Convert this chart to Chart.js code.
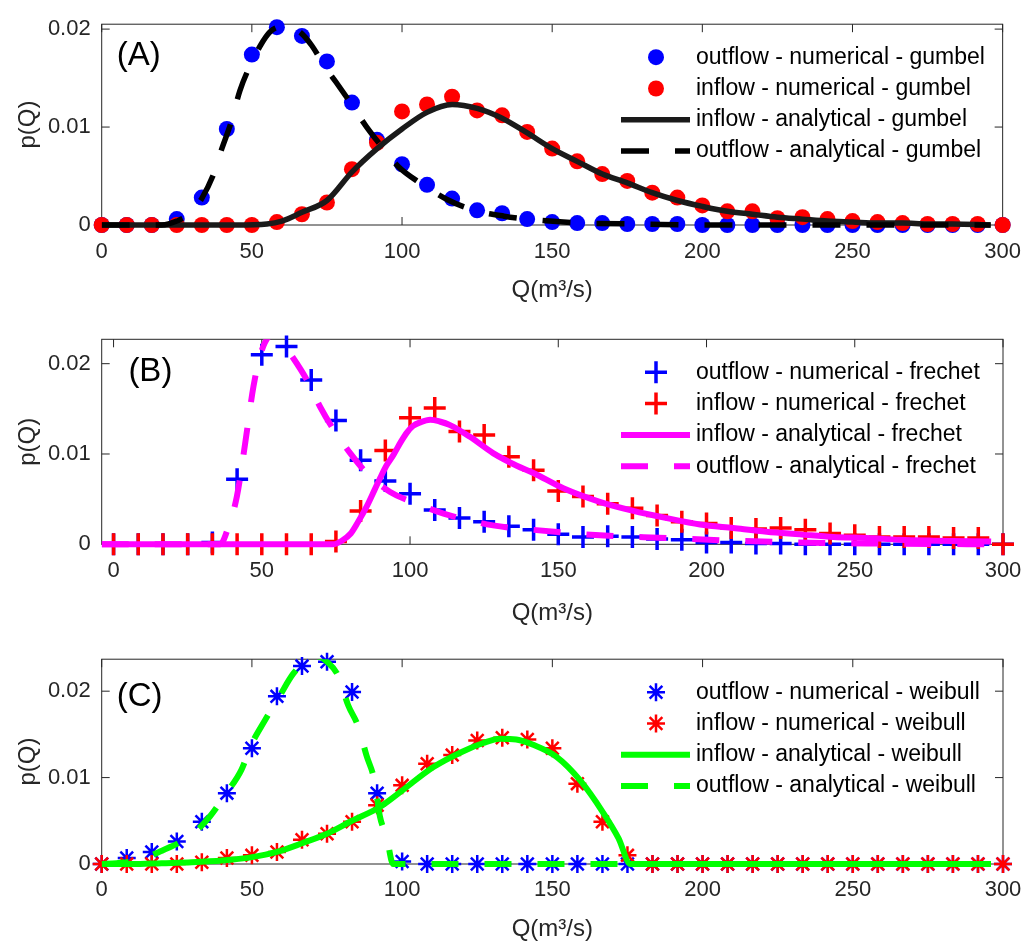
<!DOCTYPE html>
<html>
<head>
<meta charset="utf-8">
<script src="https://cdn.jsdelivr.net/npm/chart.js@4.4.1/dist/chart.umd.min.js"></script>
<style>
  html, body { margin: 0; padding: 0; background: #fff; }
  .panel { position: absolute; left: 0; }
</style>
</head>
<body>
<canvas id="cA" class="panel" width="1035" height="315" style="top:0px"></canvas>
<canvas id="cB" class="panel" width="1035" height="320" style="top:315px"></canvas>
<canvas id="cC" class="panel" width="1035" height="310" style="top:635px"></canvas>
<script>
// three stacked panels: gumbel / frechet / weibull fits of p(Q)

const FONT = '"Liberation Sans", Arial, Helvetica, sans-serif';
const AXIS_COLOR = '#262626';

// discharge grid of the numerical estimates
const Q_NUM = [0, 8.33, 16.67, 25, 33.33, 41.67, 50, 58.33, 66.67, 75, 83.33, 91.67, 100,
  108.33, 116.67, 125, 133.33, 141.67, 150, 158.33, 166.67, 175, 183.33, 191.67, 200,
  208.33, 216.67, 225, 233.33, 241.67, 250, 258.33, 266.67, 275, 283.33, 291.67, 300];

const X_TICKS = [0, 50, 100, 150, 200, 250, 300];
const Y_TICKS = [0, 0.01, 0.02];

// (A) gumbel
const GUMBEL_OUT_NUM = [0, 0, 0, 0.0006, 0.0028, 0.0098, 0.0174, 0.0202, 0.0193, 0.0167, 0.0125, 0.0087, 0.0062,
  0.0041, 0.0027, 0.0015, 0.0012, 0.0006, 0.0003, 0.0002, 0.0002, 0.0001, 0.0001, 0.0001, 0,
  0, 0, 0, 0, 0, 0, 0, 0, 0, 0, 0, 0];
const GUMBEL_IN_NUM = [0, 0, 0, 0, 0, 0, 0, 0.0003, 0.0011, 0.0023, 0.0057, 0.0084, 0.0116,
  0.0123, 0.0131, 0.0117, 0.0112, 0.0095, 0.0078, 0.0065, 0.0052, 0.0045, 0.0033, 0.0028, 0.0020,
  0.0014, 0.0014, 0.0007, 0.0008, 0.0006, 0.0004, 0.0003, 0.0002, 0.0001, 0.0001, 0.0001, 0];
const GUMBEL_IN_Q = [0, 45, 55, 60, 66.7, 75, 83.3, 91.7, 100, 108.3, 116.7, 125, 133.3, 141.7, 150,
  158.3, 166.7, 175, 183.3, 191.7, 200, 208.3, 216.7, 225, 233.3, 241.7, 250, 258.3, 266.7, 275, 283.3, 296];
const GUMBEL_IN_P = [0, 0, 0.0001, 0.0004, 0.0013, 0.0025, 0.0054, 0.0078, 0.0098, 0.0115, 0.0123, 0.0119, 0.0109, 0.0094, 0.0078,
  0.0065, 0.0052, 0.0043, 0.0033, 0.0025, 0.0019, 0.0014, 0.0011, 0.0008, 0.0006, 0.0004, 0.0003, 0.0002, 0.0002, 0.0001, 0.0001, 0];
const GUMBEL_OUT_Q = [0, 20, 25, 30, 33.3, 37, 40, 43, 46, 49, 53, 56, 59, 62, 66, 70, 74, 78, 83, 88, 93,
  99, 106, 115, 124, 134, 145, 160, 180, 200, 296];
const GUMBEL_OUT_P = [0, 0, 0.0004, 0.0013, 0.0027, 0.0050, 0.0078, 0.0104, 0.0137, 0.0160, 0.0184, 0.0197, 0.0202, 0.0202, 0.0197, 0.0183, 0.0163, 0.0146, 0.0124, 0.0101, 0.0081,
  0.0059, 0.0043, 0.0026, 0.0015, 0.0009, 0.0005, 0.0002, 0.0001, 0, 0];

// (B) frechet
const FRECHET_OUT_NUM = [0, 0, 0, 0, 0.0002, 0.0072, 0.0210, 0.0219, 0.0182, 0.0137, 0.0093, 0.0070, 0.0056,
  0.0038, 0.0029, 0.0025, 0.0020, 0.0016, 0.0011, 0.0008, 0.0009, 0.0008, 0.0006, 0.0005, 0.0002,
  0.0002, 0.0001, 0.0001, 0, 0, 0, 0, 0, 0, 0, 0, 0];
const FRECHET_IN_NUM = [0, 0, 0, 0, 0, 0, 0, 0, 0, 0.0003, 0.0037, 0.0104, 0.0140,
  0.0151, 0.0125, 0.0121, 0.0097, 0.0082, 0.0059, 0.0053, 0.0045, 0.0040, 0.0032, 0.0025, 0.0023,
  0.0018, 0.0017, 0.0018, 0.0016, 0.0012, 0.0010, 0.0008, 0.0008, 0.0008, 0.0007, 0.0007, 0];
const FRECHET_IN_Q = [-4, 74, 77, 80, 82.5, 85.4, 88, 90, 92, 94.4, 97, 99, 101, 103.4, 106.8, 110, 113.5,
  120.2, 128, 136, 141.6, 151.7, 164, 175.3, 186.6, 197.8, 209, 220.3, 231.5, 242.8, 254, 265, 276.5, 296];
const FRECHET_IN_P = [0, 0, 0.0004, 0.0012, 0.0025, 0.0042, 0.0060, 0.0074, 0.0087, 0.0099, 0.0114, 0.0124, 0.0131, 0.0135, 0.0138, 0.0136, 0.0132,
  0.0119, 0.0101, 0.0087, 0.0079, 0.0062, 0.0047, 0.0037, 0.0029, 0.0022, 0.0018, 0.0014, 0.0011, 0.0008, 0.0007, 0.0005, 0.0004, 0.0003];
const FRECHET_OUT_Q = [-4, 35.9, 38.8, 41.6, 44.4, 47.2, 50, 54.5, 59.6, 65.2, 69.7, 74.2, 79.8, 85.4, 93.3,
  102.3, 111.3, 128, 141.6, 164, 186.6, 209, 231.5, 254, 296];
const FRECHET_OUT_P = [0, 0, 0.0020, 0.0053, 0.0112, 0.0175, 0.0215, 0.0234, 0.0211, 0.0182, 0.0152, 0.0127, 0.0101, 0.0079, 0.0058,
  0.0045, 0.0034, 0.0021, 0.0016, 0.0010, 0.0007, 0.0004, 0.0002, 0.0001, 0];

// (C) weibull
const WEIBULL_OUT_NUM = [0, 0.0007, 0.0014, 0.0026, 0.0049, 0.0082, 0.0134, 0.0194, 0.0229, 0.0234, 0.0199, 0.0082, 0.0003,
  0, 0, 0, 0, 0, 0, 0, 0, 0, 0, 0, 0, 0, 0, 0, 0, 0, 0, 0, 0, 0, 0, 0, 0];
const WEIBULL_IN_NUM = [0, 0, 0, 0, 0.0002, 0.0007, 0.0010, 0.0014, 0.0028, 0.0035, 0.0049, 0.0068, 0.0091,
  0.0116, 0.0126, 0.0143, 0.0146, 0.0144, 0.0134, 0.0093, 0.0049, 0.0010, 0, 0, 0,
  0, 0, 0, 0, 0, 0, 0, 0, 0, 0, 0, 0];
const WEIBULL_IN_Q = [0, 10, 20, 30, 40, 50, 58.3, 66.7, 75, 83.3, 92.6, 100, 110.3, 120, 127, 132.5, 138,
  143.6, 151.4, 159.2, 167, 172, 176, 180, 296];
const WEIBULL_IN_P = [0, 0, 0.0001, 0.0002, 0.0004, 0.0008, 0.0014, 0.0024, 0.0035, 0.0050, 0.0066, 0.0085, 0.0112, 0.0130, 0.0140, 0.0145, 0.0144,
  0.0138, 0.0124, 0.0097, 0.0059, 0.0030, 0, 0, 0];
const WEIBULL_OUT_Q = [0, 5, 12.7, 20.4, 29.3, 36, 41.5, 46.5, 49.8, 54.3, 59.3, 63.7, 68, 72, 75, 78.7, 82,
  85.4, 88.1, 90.9, 92.6, 94.8, 97, 100, 296];
const WEIBULL_OUT_P = [0, 0.0001, 0.0005, 0.0016, 0.0032, 0.0055, 0.0082, 0.0109, 0.0138, 0.0166, 0.0195, 0.0220, 0.0235, 0.0240, 0.0234, 0.0218, 0.0184,
  0.0159, 0.0126, 0.0095, 0.0055, 0.0032, 0, 0, 0];

const zip = (xs, ys) => xs.map((x, i) => ({ x, y: ys[i] }));

function markers(label, xs, ys, color, style, radius, bw, order) {
  return {
    label, data: zip(xs, ys), showLine: false, order, clip: false,
    pointStyle: style, pointRadius: radius, pointHoverRadius: radius,
    pointBackgroundColor: color, pointBorderColor: color, pointBorderWidth: bw
  };
}

function curve(label, xs, ys, color, width, dash, order) {
  return {
    label, data: zip(xs, ys), showLine: true, order,
    borderColor: color, borderWidth: width, borderDash: dash,
    pointRadius: 0, cubicInterpolationMode: 'monotone',
    clip: { left: 0, top: 0, right: 3, bottom: 6 }
  };
}

// inward ticks on all four sides plus the plot box
const boxPlugin = {
  id: 'matlabBox',
  beforeDatasetsDraw(chart) {
    const { ctx, chartArea: a, scales: { x, y } } = chart;
    ctx.save();
    ctx.strokeStyle = AXIS_COLOR;
    ctx.lineWidth = 1;
    ctx.strokeRect(a.left, a.top, a.right - a.left, a.bottom - a.top);
    ctx.beginPath();
    X_TICKS.forEach(v => {
      const px = x.getPixelForValue(v);
      ctx.moveTo(px, a.bottom); ctx.lineTo(px, a.bottom - 8);
      ctx.moveTo(px, a.top); ctx.lineTo(px, a.top + 8);
    });
    Y_TICKS.forEach(v => {
      const py = y.getPixelForValue(v);
      ctx.moveTo(a.left, py); ctx.lineTo(a.left + 8, py);
      ctx.moveTo(a.right, py); ctx.lineTo(a.right - 8, py);
    });
    ctx.stroke();
    ctx.restore();
  }
};

// legend without a box, plus the (A)/(B)/(C) tag
const legendPlugin = {
  id: 'plainLegend',
  afterDatasetsDraw(chart, args, opts) {
    const { ctx, chartArea: a, scales: { x, y } } = chart;
    ctx.save();
    ctx.textBaseline = 'middle';
    ctx.textAlign = 'left';
    ctx.font = '23px ' + FONT;
    chart.data.datasets.forEach((ds, i) => {
      const ry = a.top + 33 + i * 31.3;
      if (ds.showLine) {
        ctx.strokeStyle = ds.borderColor;
        ctx.lineWidth = ds.borderWidth;
        ctx.setLineDash(ds.borderDash || []);
        ctx.beginPath(); ctx.moveTo(621, ry); ctx.lineTo(690, ry); ctx.stroke();
        ctx.setLineDash([]);
      } else {
        ctx.fillStyle = ds.pointBackgroundColor;
        ctx.strokeStyle = ds.pointBorderColor;
        ctx.lineWidth = ds.pointBorderWidth;
        Chart.helpers.drawPoint(ctx, { pointStyle: ds.pointStyle, radius: ds.pointRadius, borderWidth: ds.pointBorderWidth, rotation: 0 }, 656, ry);
      }
      ctx.fillStyle = '#000';
      ctx.fillText(ds.label, 696, ry);
    });
    ctx.font = '33px ' + FONT;
    ctx.fillStyle = '#000';
    ctx.fillText(opts.tag, x.getPixelForValue(opts.tagX), y.getPixelForValue(opts.tagY));
    ctx.restore();
  }
};

function makePanel(id, panel) {
  new Chart(document.getElementById(id), {
    type: 'scatter',
    data: { datasets: panel.datasets },
    options: {
      responsive: false,
      animation: false,
      events: [],
      layout: { padding: { top: panel.padTop, right: 32, bottom: 0, left: 0 } },
      plugins: {
        legend: { display: false },
        tooltip: { enabled: false },
        plainLegend: { tag: panel.tag, tagX: 5, tagY: panel.tagY }
      },
      scales: {
        x: {
          type: 'linear', min: panel.xMin, max: 300,
          afterBuildTicks: s => { s.ticks = X_TICKS.map(v => ({ value: v })); },
          afterFit: s => { s.height = panel.xHeight; },
          grid: { display: false, drawTicks: false },
          border: { display: false },
          ticks: { color: AXIS_COLOR, font: { family: FONT, size: 22 }, padding: panel.tickPad, maxRotation: 0, autoSkip: false },
          title: { display: true, text: 'Q(m³/s)', color: AXIS_COLOR, font: { family: FONT, size: 24 }, padding: { top: 0, bottom: panel.titlePad } }
        },
        y: {
          type: 'linear', min: 0, max: panel.yMax,
          afterBuildTicks: s => { s.ticks = Y_TICKS.map(v => ({ value: v })); },
          afterFit: s => { s.width = 101.7; },
          grid: { display: false, drawTicks: false },
          border: { display: false },
          ticks: { color: AXIS_COLOR, font: { family: FONT, size: 22 }, padding: 11, callback: v => v === 0 ? '0' : String(v) },
          title: { display: true, text: 'p(Q)', color: AXIS_COLOR, font: { family: FONT, size: 24 }, padding: { top: 13.6, bottom: 0 } }
        }
      }
    },
    plugins: [boxPlugin, legendPlugin]
  });
}

makePanel('cA', {
  tag: '(A)', tagY: 0.0173, xMin: 0, yMax: 0.0205, padTop: 20, xHeight: 90, tickPad: 14, titlePad: 10.6,
  datasets: [
    markers('outflow - numerical - gumbel', Q_NUM, GUMBEL_OUT_NUM, '#0000ff', 'circle', 8, 0, 4),
    markers('inflow - numerical - gumbel', Q_NUM, GUMBEL_IN_NUM, '#ff0000', 'circle', 8, 0, 3),
    curve('inflow - analytical - gumbel', GUMBEL_IN_Q, GUMBEL_IN_P, '#1a1a1a', 5.5, [], 2),
    curve('outflow - analytical - gumbel', GUMBEL_OUT_Q, GUMBEL_OUT_P, '#000000', 5.5, [28, 26], 1)
  ]
});

makePanel('cB', {
  tag: '(B)', tagY: 0.0191, xMin: -4, yMax: 0.0227, padTop: 24.3, xHeight: 90.7, tickPad: 13, titlePad: 7.6,
  datasets: [
    markers('outflow - numerical - frechet', Q_NUM, FRECHET_OUT_NUM, '#0000ff', 'cross', 11, 3.5, 4),
    markers('inflow - numerical - frechet', Q_NUM, FRECHET_IN_NUM, '#ff0000', 'cross', 11, 3.5, 3),
    curve('inflow - analytical - frechet', FRECHET_IN_Q, FRECHET_IN_P, '#ff00ff', 6, [], 2),
    curve('outflow - analytical - frechet', FRECHET_OUT_Q, FRECHET_OUT_P, '#ff00ff', 6, [27, 26], 1)
  ]
});

makePanel('cC', {
  tag: '(C)', tagY: 0.0193, xMin: 0, yMax: 0.0237, padTop: 24, xHeight: 81, tickPad: 13, titlePad: 1.6,
  datasets: [
    markers('outflow - numerical - weibull', Q_NUM, WEIBULL_OUT_NUM, '#0000ff', 'star', 9, 2.5, 4),
    markers('inflow - numerical - weibull', Q_NUM, WEIBULL_IN_NUM, '#ff0000', 'star', 9, 2.5, 3),
    curve('inflow - analytical - weibull', WEIBULL_IN_Q, WEIBULL_IN_P, '#00ff00', 6, [], 2),
    curve('outflow - analytical - weibull', WEIBULL_OUT_Q, WEIBULL_OUT_P, '#00ff00', 6, [27, 26], 1)
  ]
});
</script>
</body>
</html>
